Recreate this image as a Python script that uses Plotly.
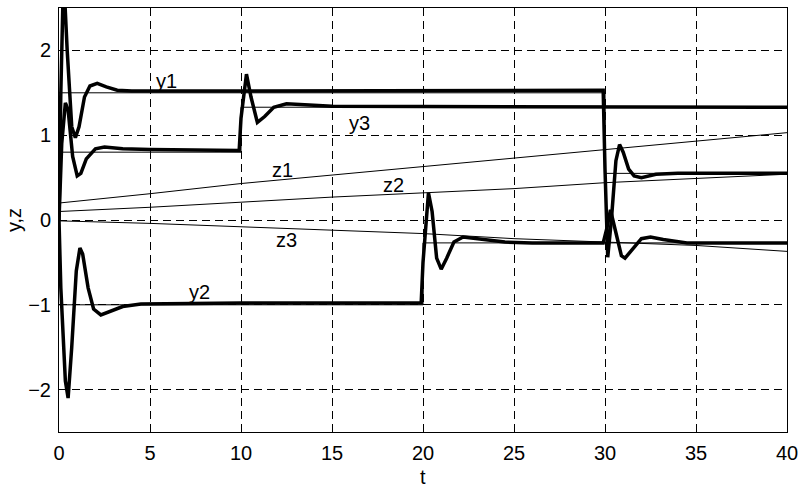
import plotly.graph_objects as go

# ---- data ----
t_y1 = [0, 0.1, 0.25, 0.45, 0.7, 0.9, 1.1, 1.4, 1.7, 2.1, 2.6, 3.2, 4, 10, 20, 29.9,
        30.0, 30.15, 30.35, 30.6, 30.8, 31.0, 31.3, 31.6, 32.0, 32.8, 34, 40]
v_y1 = [0, 1.5, 2.9, 2.0, 1.1, 0.97, 1.1, 1.45, 1.58, 1.61, 1.57, 1.53, 1.52, 1.52, 1.52, 1.53,
        0.6, -0.44, 0.0, 0.7, 0.89, 0.8, 0.6, 0.52, 0.5, 0.54, 0.55, 0.55]

t_y2 = [0, 0.1, 0.35, 0.5, 0.7, 0.95, 1.15, 1.3, 1.6, 1.9, 2.3, 2.8, 3.5, 4.5, 10, 19.9,
        20.0, 20.3, 20.5, 20.75, 21.0, 21.3, 21.7, 22.2, 23, 24.5, 26, 29.9,
        30.1, 30.3, 30.6, 30.9, 31.1, 31.5, 32.0, 32.5, 33.2, 34.5, 40]
v_y2 = [0, -0.8, -1.9, -2.1, -1.5, -0.6, -0.33, -0.4, -0.8, -1.05, -1.12, -1.08, -1.02, -0.99, -0.98, -0.98,
        -0.5, 0.32, 0.1, -0.45, -0.58, -0.45, -0.26, -0.2, -0.22, -0.26, -0.27, -0.27,
        -0.1, 0.12, -0.15, -0.42, -0.45, -0.35, -0.22, -0.2, -0.23, -0.27, -0.27]

t_y3 = [0, 0.15, 0.35, 0.5, 0.75, 1.0, 1.2, 1.5, 2.0, 2.5, 3.5, 5, 9.9,
        10.0, 10.3, 10.55, 10.9, 11.3, 11.8, 12.5, 13.5, 15, 40]
v_y3 = [0, 0.9, 1.38, 1.3, 0.75, 0.52, 0.55, 0.72, 0.84, 0.86, 0.84, 0.83, 0.82,
        1.2, 1.72, 1.45, 1.15, 1.22, 1.33, 1.37, 1.36, 1.34, 1.33]

t_z = [0, 5, 10, 15, 20, 25, 30, 35, 40]
v_z1 = [0.20, 0.31, 0.43, 0.53, 0.63, 0.73, 0.83, 0.93, 1.03]
v_z2 = [0.10, 0.15, 0.21, 0.27, 0.32, 0.37, 0.44, 0.49, 0.54]
v_z3 = [-0.01, -0.04, -0.08, -0.12, -0.16, -0.22, -0.26, -0.30, -0.37]

# setpoint (reference) steps
t_r1 = [0, 30, 30, 40]
v_r1 = [1.5, 1.5, 0.55, 0.55]
t_r2 = [0, 20, 20, 40]
v_r2 = [-1.0, -1.0, -0.27, -0.27]
t_r3 = [0, 10, 10, 40]
v_r3 = [0.8, 0.8, 1.33, 1.33]

x_ticks = [0, 5, 10, 15, 20, 25, 30, 35, 40]
y_ticks = [-2, -1, 0, 1, 2]

labels = ["y1", "y2", "y3", "z1", "z2", "z3"]
label_t = [5.9, 7.7, 16.5, 12.3, 18.4, 12.5]
label_v = [1.64, -0.85, 1.14, 0.59, 0.41, -0.24]

FONT = "Liberation Sans, Arial, sans-serif"

fig = go.Figure()
thin = dict(color="black", width=1)
thick = dict(color="black", width=3.5)
for tt, vv in [(t_r1, v_r1), (t_r2, v_r2), (t_r3, v_r3)]:
    fig.add_trace(go.Scatter(x=tt, y=vv, mode="lines", line=thin, hoverinfo="skip"))
for vv in [v_z1, v_z2, v_z3]:
    fig.add_trace(go.Scatter(x=t_z, y=vv, mode="lines", line=thin))
for tt, vv in [(t_y1, v_y1), (t_y2, v_y2), (t_y3, v_y3)]:
    fig.add_trace(go.Scatter(x=tt, y=vv, mode="lines", line=thick))

for s, tx, vy in zip(labels, label_t, label_v):
    fig.add_annotation(x=tx, y=vy, text=s, showarrow=False,
                       font=dict(family=FONT, size=20, color="black"))

# axis titles as paper-anchored annotations
fig.add_annotation(x=0.5, y=0, xref="paper", yref="paper", yshift=-45, yanchor="middle",
                   text="t", showarrow=False, font=dict(family=FONT, size=20, color="black"))
fig.add_annotation(x=0, y=0.5, xref="paper", yref="paper", xshift=-45, xanchor="center",
                   text="y,z", textangle=-90, showarrow=False,
                   font=dict(family=FONT, size=20, color="black"))

axis_common = dict(showline=True, mirror=True, linecolor="black", linewidth=1,
                   showgrid=True, gridcolor="black", gridwidth=1, griddash="8px,5px",
                   zeroline=False, ticks="inside", ticklen=5, tickcolor="black",
                   automargin=False, ticklabelstandoff=3,
                   tickfont=dict(family=FONT, size=20, color="black"))

fig.update_layout(
    width=801, height=490,
    margin=dict(l=59, r=14, t=8, b=58),
    paper_bgcolor="white", plot_bgcolor="white",
    showlegend=False,
    xaxis=dict(range=[0, 40], tickvals=x_ticks, **axis_common),
    yaxis=dict(range=[-2.5, 2.5], tickvals=y_ticks, **axis_common),
)

fig.write_html("out.html", config={"displayModeBar": False},
               post_script="document.body.style.margin='0';document.body.style.overflow='hidden';")
